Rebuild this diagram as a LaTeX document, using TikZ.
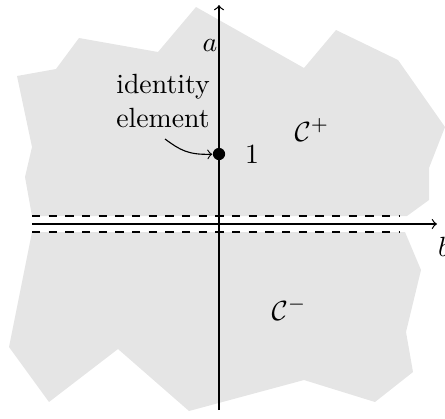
\documentclass[tikz,border=0pt]{standalone}
\begin{document}
\begin{tikzpicture}[x=0.36pt,y=-0.36pt,
  region/.style={fill=black!10,draw=none},
  axisline/.style={line width=0.45pt,->},
  sepline/.style={dashed,line width=0.45pt},
  dotnode/.style={circle,fill=black,inner sep=0pt,minimum size=4.4pt},
  lbl/.style={inner sep=1pt}]
\useasboundingbox (0,0) rectangle (445,418);
\clip (0,0) rectangle (445,418);
% regions
\fill[region] (17,76) -- (56,69) -- (79,38) -- (158,52) -- (196,7) -- (304,68) -- (336,30) -- (398,60) -- (445,127) -- (429,168) -- (429,200) -- (407,216) -- (32,216) -- (25,177) -- (32,147) -- cycle;
\fill[region] (32,232) -- (405,232) -- (421,270) -- (406,332) -- (413,372) -- (375,402) -- (304,380) -- (189,411) -- (118,349) -- (49,402) -- (9,347) -- cycle;
% coordinates
\coordinate (hs) at (32,224);
\coordinate (he) at (437,224);
\coordinate (vs) at (219,410);
\coordinate (ve) at (219,5);
\coordinate (d1s) at (32,216);
\coordinate (d1e) at (400,216);
\coordinate (d2s) at (32,232);
\coordinate (d2e) at (400,232);
% dashed lines
\draw[sepline] (d1s) -- (d1e);
\draw[sepline] (d2s) -- (d2e);
% axes
\draw[axisline] (hs) -- (he);
\draw[axisline] (vs) -- (ve);
% labels
\node[lbl] (alab) at (210,46) {$a$};
\node[lbl] (blab) at (444,247) {$b$};
\node[dotnode] (one) at (219,154) {};
\node[lbl] (onelab) at (252,155) {$1$};
\node[lbl] (cplus) at (312,130) {$\mathcal{C}^+$};
\node[lbl] (cminus) at (289,309) {$\mathcal{C}^-$};
\node[lbl,align=center] (ident) at (163,101) {identity\\element};
\coordinate (arrs) at (165,139);
\draw[->,line width=0.4pt] (arrs) .. controls (180,150) and (188,155) .. (one);
\end{tikzpicture}
\end{document}
